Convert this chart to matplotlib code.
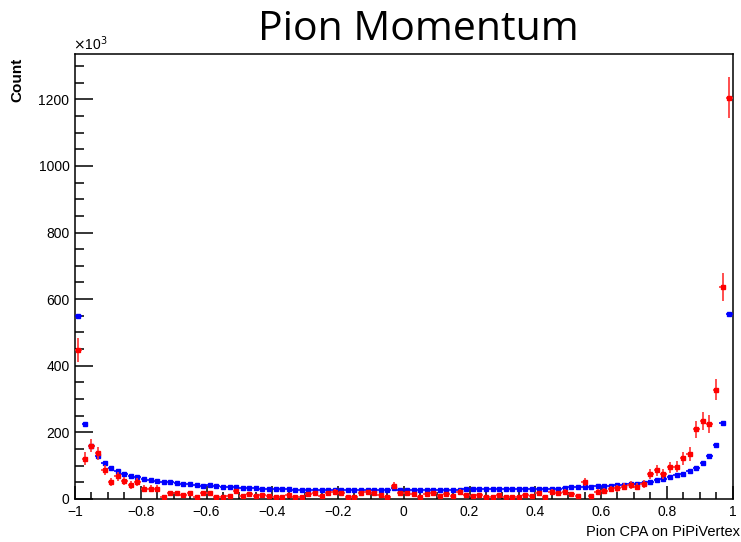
import numpy as np
import matplotlib
matplotlib.use('Agg')
import matplotlib.pyplot as plt
import matplotlib.ticker as ticker
from matplotlib import font_manager

#
# Data (counts in units of 10^3, 100 bins from -1 to 1)
#

bin_edges = np.linspace(-1, 1, 101)

blue_counts = [
    549, 224, 159, 130, 108, 94, 83, 76, 69, 65,
    60, 57, 54, 50, 50, 47, 46, 45, 42, 40,
    41, 38, 37, 36, 35, 33, 32, 32, 31, 31,
    31, 30, 29, 28, 28, 28, 28, 28, 28, 28,
    28, 28, 28, 28, 28, 28, 28, 28, 33, 28,
    28, 28, 28, 28, 28, 28, 28, 28, 28, 29,
    29, 29, 29, 29, 29, 29, 29, 29, 29, 29,
    29, 30, 30, 30, 34, 35, 36, 37, 37, 38,
    39, 40, 41, 43, 44, 46, 49, 52, 56, 60,
    65, 72, 75, 85, 94, 107, 129, 162, 227, 556,
]

red_counts = [
    447, 121, 160, 137, 87, 52, 68, 53, 42, 52,
    31, 31, 31, 5, 18, 18, 11, 18, 5, 18,
    18, 5, 7, 8, 23, 10, 14, 10, 12, 9,
    7, 7, 12, 7, 7, 14, 17, 10, 17, 22,
    17, 7, 6, 17, 20, 17, 12, 5, 40, 17,
    17, 15, 5, 15, 17, 10, 15, 8, 22, 12,
    9, 12, 7, 5, 12, 7, 7, 7, 12, 10,
    17, 7, 22, 17, 22, 15, 10, 50, 10, 22,
    25, 29, 32, 37, 42, 37, 44, 76, 86, 74,
    95, 97, 122, 135, 209, 235, 225, 328, 636, 1205,
]

red_errors = [
    37, 20, 20, 19, 16, 12, 14, 12, 11, 12,
    10, 10, 10, 4, 7, 7, 6, 7, 4, 7,
    7, 4, 5, 5, 8, 6, 7, 6, 6, 5,
    5, 5, 6, 5, 5, 7, 7, 6, 7, 8,
    7, 5, 4, 7, 8, 7, 6, 4, 11, 7,
    7, 7, 4, 7, 7, 6, 7, 5, 8, 6,
    5, 6, 5, 4, 6, 5, 5, 5, 6, 6,
    7, 5, 8, 7, 8, 7, 6, 12, 6, 8,
    9, 9, 10, 11, 11, 11, 12, 15, 16, 15,
    17, 17, 19, 20, 25, 27, 26, 31, 43, 61,
]

x_label = 'Pion CPA on PiPiVertex'
y_label = 'Count'
title = 'Pion Momentum'

#
# Fonts
#

def pick_font(name, fallback):
    try:
        font_manager.findfont(name, fallback_to_default=False)
        return name
    except ValueError:
        return fallback

root_font = pick_font('Liberation Sans Narrow', 'Liberation Sans')
title_font = pick_font('Open Sans', 'DejaVu Sans')

#
# Graph
#

centers = (bin_edges[:-1] + bin_edges[1:]) / 2
half_width = (bin_edges[1] - bin_edges[0]) / 2

fig = plt.figure(figsize=(7.41, 5.42), dpi=100)
ax = fig.add_axes([75 / 741, 1 - 499 / 542, 657.5 / 741, 445 / 542])

ax.errorbar(centers, blue_counts, xerr=half_width, fmt='s', color='#0000ff',
            markersize=3.2, elinewidth=1.2, capsize=0, zorder=3)
ax.errorbar(centers, red_counts, xerr=half_width, yerr=red_errors, fmt='s',
            color='#ff0000', ecolor='#ff3030', markersize=3.2, elinewidth=1.2,
            capsize=0, zorder=4)

ax.set_xlim(-1, 1)
ax.set_ylim(0, 1336)

ax.xaxis.set_major_locator(ticker.MultipleLocator(0.2))
ax.xaxis.set_minor_locator(ticker.MultipleLocator(0.05))
ax.yaxis.set_major_locator(ticker.MultipleLocator(200))
ax.yaxis.set_minor_locator(ticker.MultipleLocator(50))
ax.xaxis.set_major_formatter(ticker.FuncFormatter(
    lambda v, p: ('%g' % round(v, 2)).replace('-', '\u2212')))
ax.yaxis.set_major_formatter(ticker.FuncFormatter(lambda v, p: '%d' % v))

ax.tick_params(axis='both', which='both', direction='in', top=False, right=False,
               width=1.1, labelsize=10)
ax.tick_params(axis='x', which='major', length=9.5, pad=4)
ax.tick_params(axis='x', which='minor', length=4.7)
ax.tick_params(axis='y', which='major', length=13, pad=4)
ax.tick_params(axis='y', which='minor', length=6.5)
for lab in ax.get_xticklabels() + ax.get_yticklabels():
    lab.set_fontfamily(root_font)

for spine in ax.spines.values():
    spine.set_linewidth(1.1)

fig.text(17 / 741, 1 - 102 / 542, y_label, rotation=90, ha='center', va='bottom',
         fontsize=11, fontweight='bold', family=root_font)
fig.text(73 / 741, 1 - 53 / 542, r'$\times$10$^{3}$', ha='left', va='bottom',
         fontsize=10, family=root_font)
fig.text(740 / 741, 1 - 536 / 542, x_label, ha='right', va='baseline',
         fontsize=10.5, family=root_font)
fig.text(418 / 741, 1 - 40 / 542, title, ha='center', va='baseline',
         fontsize=29.5, family=title_font)

fig.savefig('out.png', dpi=100)
